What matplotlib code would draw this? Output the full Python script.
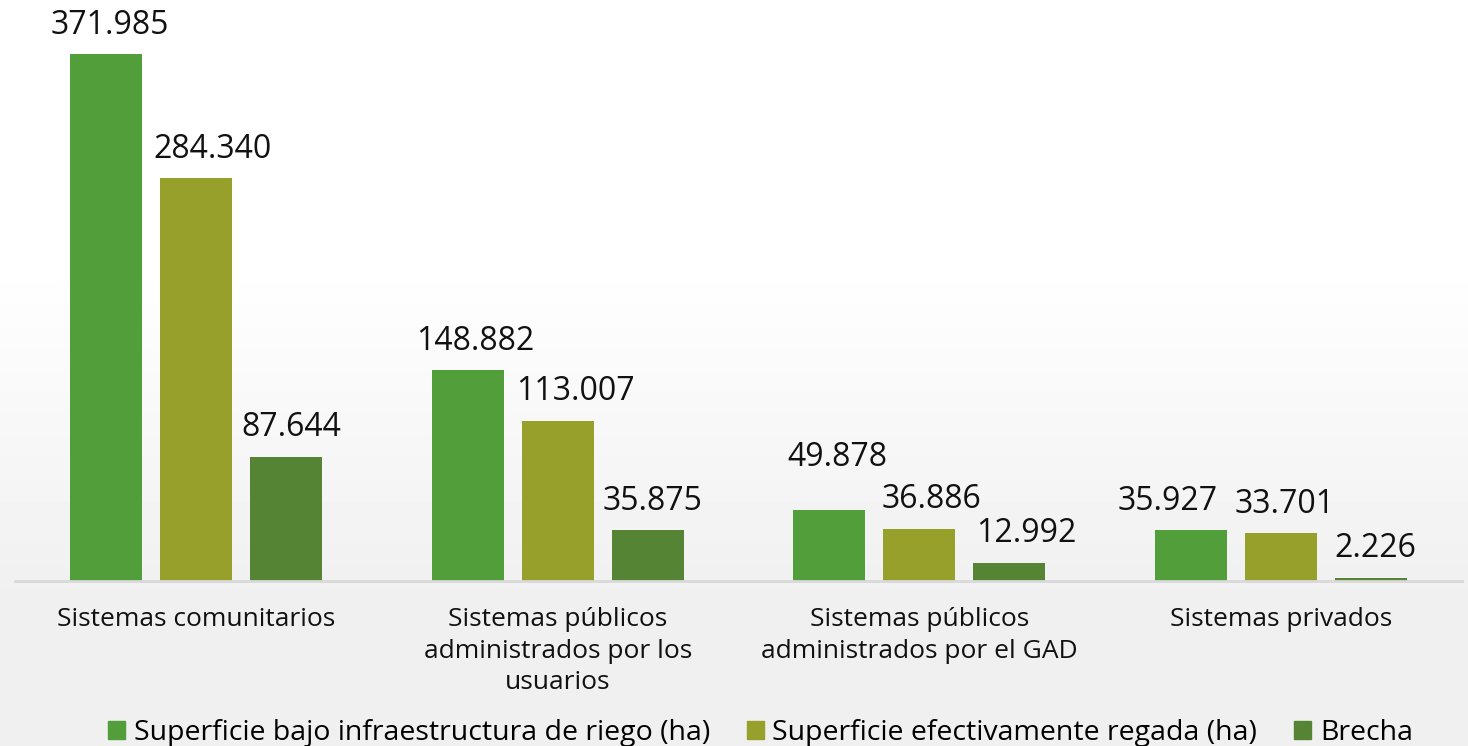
import numpy as np
import matplotlib
matplotlib.use("Agg")
import matplotlib.pyplot as plt
from matplotlib.patches import Patch

# data
categories = ["Sistemas comunitarios",
              "Sistemas públicos\nadministrados por los\nusuarios",
              "Sistemas públicos\nadministrados por el GAD",
              "Sistemas privados"]
series_names = ["Superficie bajo infraestructura de riego (ha)",
                "Superficie efectivamente regada (ha)",
                "Brecha"]
infraestructura = [371985, 148882, 49878, 35927]
regada = [284340, 113007, 36886, 33701]
brecha = [87644, 35875, 12992, 2226]

colors = ["#519E3A", "#96A02B", "#558434"]

# the original labels were nudged by hand, (dx, dy) in pixels per series / group
label_nudge = [[(4, 0), (8, 0), (8, 24), (-23, 0)],
               [(17, 0), (18, 0), (12, 0), (3, 0)],
               [(5, 0), (5, 0), (17, 0), (4, 0)]]

plt.rcParams['font.family'] = ['Open Sans', 'DejaVu Sans']

fig = plt.figure(figsize=(14.68, 7.46), dpi=100)

# soft background: white on top, light grey towards the bottom
bg = fig.add_axes([0, 0, 1, 1], zorder=-10)
grad = np.ones((200, 2))
yy = np.linspace(0, 1, 200)
grad[:, 0] = np.clip((yy - 0.35) / 0.45, 0, 1)
grad[:, 1] = grad[:, 0]
bg.imshow(1 - 0.06 * grad, cmap="gray", vmin=0, vmax=1, aspect="auto",
          extent=[0, 1, 1, 0], interpolation="bilinear")
bg.set_xlim(0, 1)
bg.set_ylim(1, 0)
bg.axis("off")

ax = fig.add_axes([15 / 1468, 165 / 746, 1447 / 1468, 581 / 746])
ax.patch.set_alpha(0)

x = np.arange(len(categories))
w = 0.199
step = 0.249
for i, vals in enumerate([infraestructura, regada, brecha]):
    pos = x + (i - 1) * step
    ax.bar(pos, vals, width=w, color=colors[i], label=series_names[i])
    for j, (p, v) in enumerate(zip(pos, vals)):
        dx, dy = label_nudge[i][j]
        ax.annotate(f"{v:,}".replace(",", "."), (p, v), xytext=(dx, 29 + dy),
                    textcoords="offset pixels", ha="center", va="center",
                    fontsize=23, color="#111111")

ax.set_xlim(-0.5, 3.5)
ax.set_ylim(0, 371985 * 581 / 527)
for s in ["top", "right", "left"]:
    ax.spines[s].set_visible(False)
ax.spines["bottom"].set_color("#D9D9D9")
ax.spines["bottom"].set_linewidth(2)
ax.set_yticks([])
ax.set_xticks(x)
ax.set_xticklabels(categories, fontsize=19, color="#111111", linespacing=1.33)
ax.tick_params(axis="x", length=0, pad=19)

handles = [Patch(color=c) for c in colors]
fig.legend(handles, series_names, loc="lower center", bbox_to_anchor=(0.518, -0.036),
           ncol=3, frameon=False, fontsize=20.5, handlelength=0.6, handleheight=0.6,
           handletextpad=0.3, columnspacing=1.3)

fig.savefig("out.png", dpi=100)
